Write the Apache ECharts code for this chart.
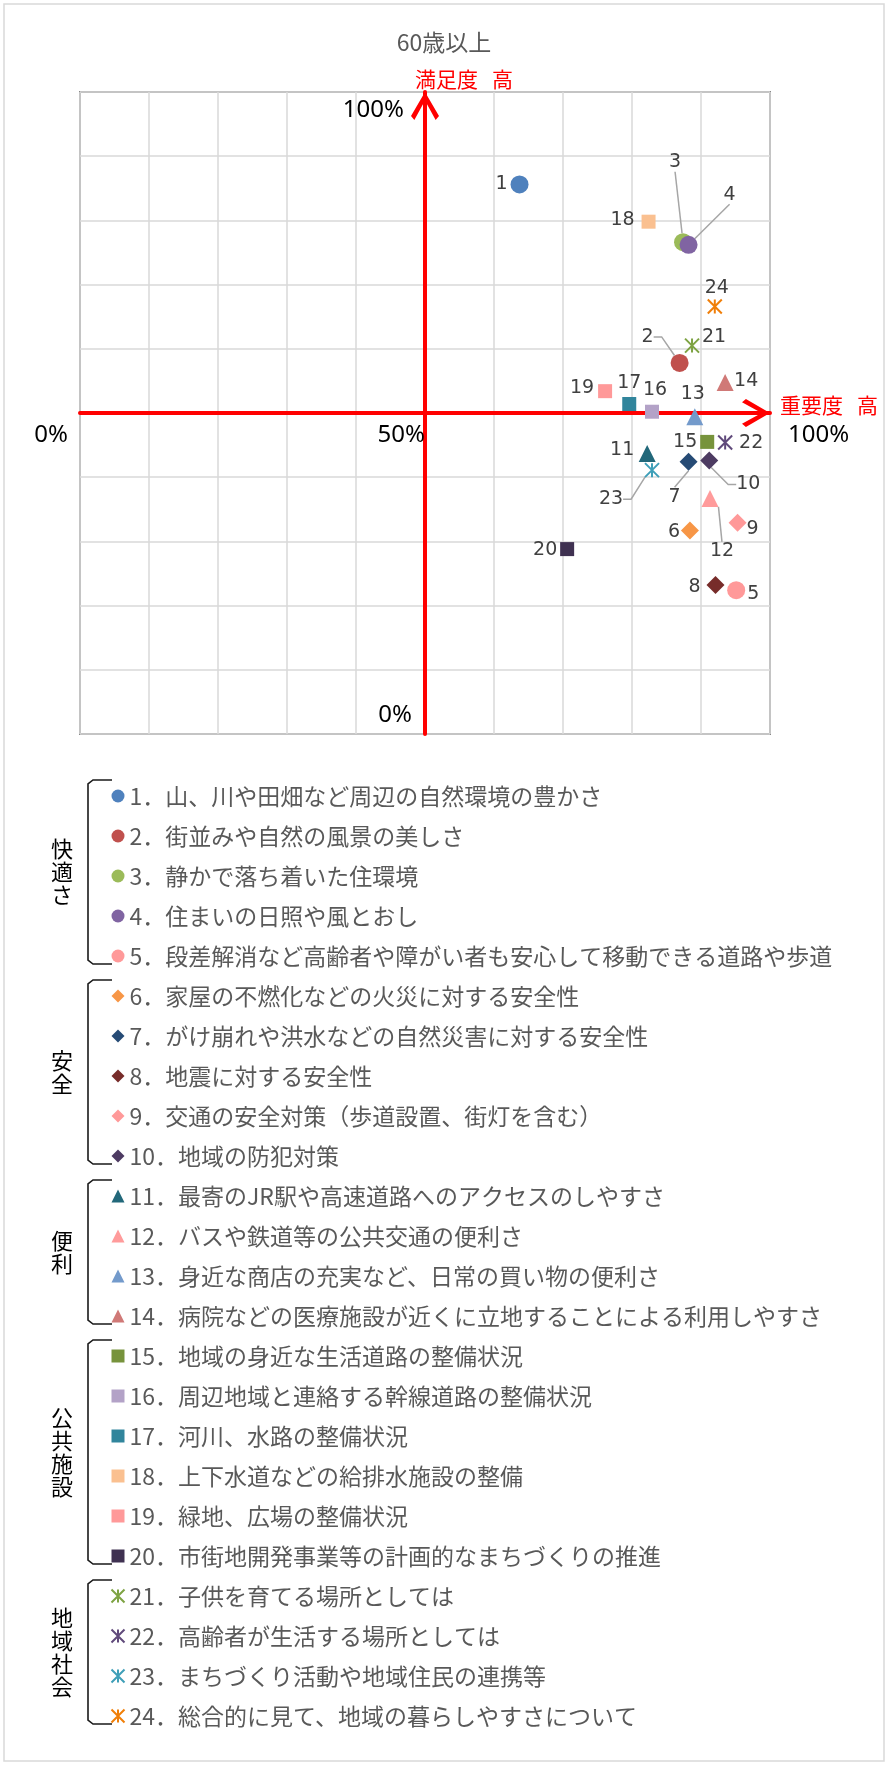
<!DOCTYPE html>
<html>
<head>
<meta charset="utf-8">
<title>60歳以上</title>
<script src="https://cdn.jsdelivr.net/npm/echarts@6/dist/echarts.min.js"></script>
<style>
  html, body { margin: 0; padding: 0; background: #fff; }
  #chart { width: 888px; height: 1765px; }
</style>
</head>
<body>
<div id="chart"></div>
<script>
// 項目名（凡例）
const itemNames = [
  '1．山、川や田畑など周辺の自然環境の豊かさ',
  '2．街並みや自然の風景の美しさ',
  '3．静かで落ち着いた住環境',
  '4．住まいの日照や風とおし',
  '5．段差解消など高齢者や障がい者も安心して移動できる道路や歩道',
  '6．家屋の不燃化などの火災に対する安全性',
  '7．がけ崩れや洪水などの自然災害に対する安全性',
  '8．地震に対する安全性',
  '9．交通の安全対策（歩道設置、街灯を含む）',
  '10．地域の防犯対策',
  '11．最寄のJR駅や高速道路へのアクセスのしやすさ',
  '12．バスや鉄道等の公共交通の便利さ',
  '13．身近な商店の充実など、日常の買い物の便利さ',
  '14．病院などの医療施設が近くに立地することによる利用しやすさ',
  '15．地域の身近な生活道路の整備状況',
  '16．周辺地域と連絡する幹線道路の整備状況',
  '17．河川、水路の整備状況',
  '18．上下水道などの給排水施設の整備',
  '19．緑地、広場の整備状況',
  '20．市街地開発事業等の計画的なまちづくりの推進',
  '21．子供を育てる場所としては',
  '22．高齢者が生活する場所としては',
  '23．まちづくり活動や地域住民の連携等',
  '24．総合的に見て、地域の暮らしやすさについて'
]
// 重要度（横軸, %）
const importance = [63.7, 86.9, 87.4, 88.2, 95.1, 88.4, 88.2, 92.1, 95.3, 91.2,
  82.2, 91.3, 89.1, 93.5, 90.9, 82.9, 79.6, 82.4, 76.1, 70.6, 88.7, 93.5, 82.9, 92.0]
// 満足度（縦軸, %）
const satisfaction = [85.6, 57.8, 76.6, 76.2, 22.4, 31.7, 42.4, 23.2, 32.9, 42.6,
  43.7, 36.7, 49.4, 54.75, 45.5, 50.2, 51.4, 79.8, 53.4, 28.8, 60.5, 45.4, 41.1, 66.6]
const groupNames = ['快適さ', '安全', '便利', '公共施設', '地域社会']
const groupSizes = [5, 5, 4, 6, 4]

const colors = ['#4F81BD', '#C0504D', '#9BBB59', '#8064A2', '#FF9999',
  '#F79646', '#264B75', '#772C2A', '#FF9999', '#4D3B62',
  '#22687A', '#FF9B9B', '#739ACB', '#D07977',
  '#77933C', '#B3A2C7', '#31859C', '#FAC090', '#FF9999', '#3F3151',
  '#7EA343', '#604A7B', '#3F9FB8', '#F07F09']

const ASTERISK = 'path://M0,0L10,10M10,0L0,10M5,0L5,10'
const CHEVRON = 'path://M50,0L100,86L88,100L50,30L12,100L0,86Z'
const groupSymbols = ['circle', 'diamond', 'triangle', 'rect', ASTERISK]
const groupSymbolSizes = [18, 18, 17, 14, 14]

// 番号ラベルの位置（マーカー中心からのずれ, px）
const labelOffsets = [[-18, 0], [-32, -26], [-8, -80], [41, -50], [17, 4],
  [-16, 2], [-14, 35], [-21, 2], [15, 6], [39, 24],
  [-25, -3], [12, 53], [-2, -23], [21, -1],
  [-22, 0], [3, -22], [0, -21], [-26, -2], [-23, -3], [-22, 1],
  [22, -9], [26, 1], [-41, 29], [2, -18]]
// 引出線あり（index: length2）
const leaderLines = {1: 8, 2: 0, 3: 0, 6: 0, 9: 8, 11: 0, 22: 8}

const LEGEND_TOP = 796
const ROW_H = 40

const symbolOf = []
const sizeOf = []
groupSizes.forEach((n, g) => {
  for (let k = 0; k < n; k++) {
    symbolOf.push(groupSymbols[g])
    sizeOf.push(groupSymbolSizes[g])
  }
})

const series = itemNames.map((name, i) => {
  const isStar = symbolOf[i] === ASTERISK
  const lead = leaderLines[i]
  return {
    name: name,
    type: 'scatter',
    data: [[importance[i], satisfaction[i]]],
    symbol: symbolOf[i],
    symbolSize: sizeOf[i],
    itemStyle: isStar
      ? {color: 'none', borderColor: colors[i], borderWidth: 2, opacity: 1}
      : {color: colors[i], opacity: 1},
    label: {
      show: true,
      position: 'inside',
      formatter: String(i + 1),
      color: '#404040',
      fontFamily: 'DejaVu Sans',
      fontSize: 19
    },
    labelLayout: {dx: labelOffsets[i][0], dy: labelOffsets[i][1]},
    labelLine: {
      show: lead !== undefined,
      length2: lead || 0,
      lineStyle: {color: '#a6a6a6', width: 1.5}
    },
    emphasis: {disabled: true}
  }
})

// 凡例のグループ括弧と見出し
const graphics = [{
  type: 'rect',
  shape: {x: 4, y: 4, width: 880, height: 1757},
  style: {fill: 'none', stroke: '#d9d9d9', lineWidth: 1.5},
  silent: true
}]
let row = 0
groupNames.forEach((g, k) => {
  const top = LEGEND_TOP + ROW_H * row - 16
  const bottom = LEGEND_TOP + ROW_H * (row + groupSizes[k] - 1) + 8
  graphics.push({
    type: 'polyline',
    shape: {points: [[112, top], [93, top], [88, top + 4], [88, bottom - 4], [93, bottom], [112, bottom]]},
    style: {stroke: '#1a1a1a', lineWidth: 1.6, fill: 'none'},
    silent: true
  })
  graphics.push({
    type: 'text',
    x: 62,
    y: (top + bottom) / 2,
    style: {
      text: g.split('').join('\n'),
      align: 'center',
      verticalAlign: 'middle',
      fontSize: 22,
      lineHeight: 23,
      fontFamily: 'Noto Sans CJK JP',
      fill: '#000'
    },
    silent: true
  })
  row += groupSizes[k]
})

const gridLine = {show: true, lineStyle: {color: '#d9d9d9', width: 1.5}}
const axisRed = {
  show: true,
  lineStyle: {color: '#ff0000', width: 4},
  symbol: ['none', CHEVRON],
  symbolSize: [30, 28],
  symbolOffset: [0, -14]
}
const labelFont = {fontSize: 24, fontFamily: 'Noto Sans', color: '#000'}

const chart = echarts.init(document.getElementById('chart'))
chart.setOption({
  animation: false,
  backgroundColor: '#fff',
  title: {
    text: '60歳以上',
    left: 'center',
    top: 31,
    padding: 0,
    textStyle: {fontSize: 23, fontWeight: 'normal', color: '#595959', fontFamily: 'Noto Sans CJK JP'}
  },
  grid: {
    left: 80, top: 92, width: 690, height: 642,
    show: true, borderColor: '#888', borderWidth: 2, backgroundColor: 'transparent',
    outerBoundsMode: 'none'
  },
  xAxis: {
    type: 'value', min: 0, max: 100, interval: 50,
    position: 'bottom', offset: -321,
    axisLine: axisRed,
    axisTick: {show: false},
    minorTick: {show: true, splitNumber: 5, length: 0, lineStyle: {opacity: 0}},
    splitLine: gridLine,
    minorSplitLine: gridLine,
    axisLabel: {
      margin: 10,
      align: 'right',
      alignMinLabel: 'right',
      alignMaxLabel: 'left',
      ...labelFont,
      formatter: v => v === 0 ? '{l|0%}' : (v === 100 ? '{r|100%}' : '{m|50%}'),
      rich: {
        l: {...labelFont, padding: [0, 12, 0, 0]},
        m: {...labelFont},
        r: {...labelFont, padding: [0, 0, 0, 18]}
      }
    },
    name: '重要度   高',
    nameLocation: 'end',
    nameGap: 10,
    nameMoveOverlap: false,
    nameTextStyle: {color: '#ff0000', fontSize: 21, fontFamily: 'Noto Sans CJK JP', verticalAlign: 'bottom', lineHeight: 16}
  },
  yAxis: {
    type: 'value', min: 0, max: 100, interval: 50,
    position: 'left', offset: -345,
    axisLine: axisRed,
    axisTick: {show: false},
    minorTick: {show: true, splitNumber: 5, length: 0, lineStyle: {opacity: 0}},
    splitLine: gridLine,
    minorSplitLine: gridLine,
    axisLabel: {
      margin: 13,
      verticalAlignMinLabel: 'bottom',
      verticalAlignMaxLabel: 'top',
      ...labelFont,
      formatter: v => v === 0 ? '{b|0%}' : (v === 100 ? '{t|100%}' : ''),
      rich: {
        t: {...labelFont, padding: [6, 8, 0, 0]},
        b: {...labelFont, padding: [0, 0, 7, 0]}
      }
    },
    name: '満足度   高',
    nameLocation: 'end',
    nameGap: 2,
    nameMoveOverlap: false,
    nameTextStyle: {color: '#ff0000', fontSize: 21, fontFamily: 'Noto Sans CJK JP', align: 'center', padding: [0, 0, 0, 78]}
  },
  legend: {
    orient: 'vertical',
    left: 109,
    top: LEGEND_TOP - 13,
    itemWidth: 13,
    itemHeight: 13,
    itemGap: 14,
    padding: 0,
    selectedMode: false,
    data: itemNames,
    textStyle: {fontSize: 23, lineHeight: 26, color: '#595959', fontFamily: 'Noto Sans CJK JP'}
  },
  graphic: graphics,
  series: series
})
</script>
</body>
</html>
